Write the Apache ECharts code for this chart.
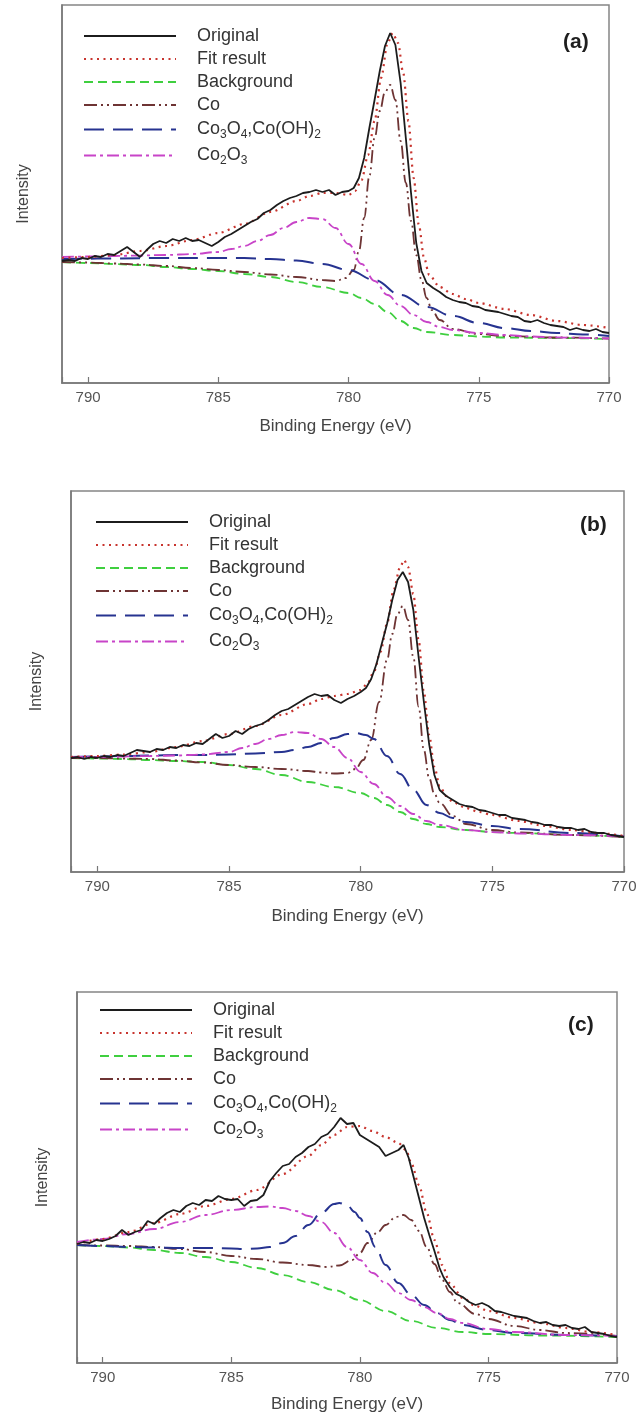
<!DOCTYPE html>
<html><head><meta charset="utf-8">
<script src="https://cdn.jsdelivr.net/npm/echarts@6/dist/echarts.min.js"></script>
<style>html,body{margin:0;padding:0;background:#fff}#c{width:638px;height:1422px}</style>
</head><body><div id="c"></div>
<script>
const seriesNames = ['Original', 'Fit result', 'Background', 'Co', 'Co3O4,Co(OH)2', 'Co2O3'];
const xTickLabels = [790, 785, 780, 775, 770];
const panelLabels = ['(a)', '(b)', '(c)'];
const xAxisTitle = 'Binding Energy (eV)';
const yAxisTitle = 'Intensity';

// ---- panel (a) : [binding energy, intensity (a.u.)]
const a_original = [[791,122],[790.75,123],[790.5,122],[790.25,125],[790,124],[789.75,127],[789.5,126],[789.25,129],[789,128],[788.75,132],[788.5,136],[788.25,131],[788,126],[787.75,133],[787.5,139],[787.25,142],[787,140],[786.75,144],[786.5,142],[786.25,145],[786,142],[785.75,143],[785.5,140],[785.25,137],[785,141],[784.75,146],[784.5,149],[784.25,153],[784,157],[783.75,161],[783.5,164],[783.25,170],[783,173],[782.75,178],[782.5,182],[782.25,185],[782,187],[781.75,190],[781.5,191],[781.25,193],[781,191],[780.75,193],[780.5,188],[780.25,191],[780,192],[779.8,195],[779.6,205],[779.4,225],[779.2,255],[779,283],[778.8,312],[778.6,337],[778.4,350],[778.2,338],[778,300],[777.8,245],[777.6,190],[777.4,140],[777.2,112],[777,100],[776.75,95],[776.5,91],[776.25,86],[776,83],[775.75,81],[775.5,80],[775.25,77],[775,76],[774.75,73],[774.5,72],[774.25,71],[774,69],[773.75,67],[773.5,66],[773.25,62],[773,61],[772.75,63],[772.5,60],[772.25,58],[772,57],[771.75,56],[771.5,53],[771.25,55],[771,53],[770.75,52],[770.5,54],[770.25,51],[770,50]];
const a_fit = [[791,125],[790,126],[789,128],[788,132],[787,137],[786,143],[785,150],[784,159],[783,171],[782,182],[781.5,187],[781,190],[780.5,190],[780,188],[779.75,192],[779.5,203],[779.25,228],[779,262],[778.75,305],[778.5,340],[778.3,350],[778.1,340],[777.9,310],[777.7,262],[777.5,205],[777.3,158],[777.1,125],[776.9,108],[776.5,96],[776,89],[775.5,84],[775,80],[774,74],[773,68],[772,62],[771,58],[770,55]];
const a_bg = [[791,121],[790,120],[789,119],[788,118],[787,116],[786,114],[785,112],[784,109],[783,106],[782,101],[781,96],[780,90],[779.5,85],[779,79],[778.5,71],[778,62],[777.5,55],[777,51],[776,48],[775,46.5],[774,45.5],[772,45],[770,44]];
const a_co = [[791,121],[790,120.5],[789,119.5],[788,118.5],[787,117],[786,115],[785,113],[784,111],[783,108.5],[782,106],[781,103],[780.5,102],[780.1,105],[779.8,113],[779.6,132],[779.4,165],[779.2,207],[779,245],[778.8,272],[778.6,291],[778.4,298],[778.2,283],[778,242],[777.8,200],[777.6,162],[777.4,128],[777.2,103],[777,85],[776.8,73],[776.5,63],[776,54],[775,49],[774,47],[772,45.5],[770,44.5]];
const a_co3o4 = [[791,124],[789,124.5],[787,125],[785,125],[784,125],[783,124],[782,122.5],[781,119],[780,113],[779,103],[778,88],[777,76],[776,67],[775,60],[774,55],[773,52],[772,50],[771,48.5],[770,47]];
const a_co2o3 = [[791,126],[790,126.5],[789,127],[788,127.5],[787,128],[786,129],[785,131],[784.5,134],[784,137],[783.5,142],[783,148],[782.5,155],[782,161],[781.5,165],[781,164],[780.5,155],[780,139],[779.5,119],[779,102],[778.5,88],[778,77],[777.5,68],[777,61],[776.5,56],[776,53],[775,50],[774,48],[773,46.5],[772,45.5],[770,44.5]];

// ---- panel (b)
const b_original = [[791,114],[790.75,115],[790.5,113],[790.25,115],[790,114],[789.75,116],[789.5,115],[789.25,117],[789,116],[788.75,119],[788.5,122],[788.25,121],[788,120],[787.75,123],[787.5,122],[787.25,125],[787,124],[786.75,127],[786.5,126],[786.25,129],[786,128],[785.75,133],[785.5,138],[785.25,134],[785,136],[784.75,141],[784.5,138],[784.25,143],[784,146],[783.75,148],[783.5,152],[783.25,157],[783,161],[782.75,163],[782.5,167],[782.25,171],[782,175],[781.75,178],[781.5,176],[781.25,177],[781,172],[780.75,169],[780.5,173],[780.25,176],[780,180],[779.8,184],[779.6,193],[779.4,208],[779.2,228],[779,248],[778.8,272],[778.6,292],[778.4,300],[778.2,290],[778,262],[777.8,215],[777.6,170],[777.4,128],[777.2,97],[777,82],[776.75,76],[776.5,72],[776.25,68],[776,66],[775.75,65],[775.5,62],[775.25,61],[775,59],[774.75,57],[774.5,57],[774.25,54],[774,53],[773.75,52],[773.5,50],[773.25,49],[773,47],[772.75,47],[772.5,45],[772.25,44],[772,44],[771.75,42],[771.5,43],[771.25,40],[771,39],[770.75,39],[770.5,37],[770.25,36],[770,35]];
const b_fit = [[791,115],[790,116],[789,117.5],[788,120],[787,125],[786,131],[785,138],[784,146],[783,157],[782,168],[781.5,173],[781,176],[780.5,178],[780,182],[779.75,188],[779.5,200],[779.25,220],[779,248],[778.75,282],[778.5,305],[778.35,312],[778.2,305],[778,278],[777.8,232],[777.6,180],[777.4,137],[777.2,105],[777,86],[776.75,76],[776.5,70],[776,64],[775.5,60],[775,57],[774,51],[773,46],[772,42],[771,39],[770,36]];
const b_bg = [[791,114],[790,113.5],[789,113],[788,112],[787,111],[786,110],[785,107],[784,103],[783,97],[782,90],[781,85],[780,79],[779.5,74],[779,67],[778.5,60],[778,53],[777.5,48],[777,45],[776,42],[775,40],[774,39],[772,37],[770,35]];
const b_co = [[791,114],[790,114],[789,113.5],[788,113],[787,111.5],[786,109.5],[785,107],[784,105],[783,103],[782,101],[781.5,99.5],[781,98.5],[780.5,99],[780.2,103],[779.9,112],[779.6,132],[779.3,170],[779,212],[778.8,238],[778.6,258],[778.4,266],[778.2,252],[778,215],[777.8,165],[777.6,122],[777.4,94],[777.2,78],[777,69],[776.5,56],[776,48],[775,42],[774,39.5],[772,37],[770,35]];
const b_co3o4 = [[791,115],[790,115.5],[789,116],[788,116.5],[787,117],[786,117],[785,117.5],[784,118.5],[783,120],[782.5,122],[782,125],[781.5,129],[781,134],[780.5,138],[780.2,139],[779.8,137],[779.5,133],[779,116],[778.5,98],[778,82],[777.5,67],[777,59],[776.5,54],[776,50],[775,46],[774,43],[772,39],[770,35.5]];
const b_co2o3 = [[791,115],[790,115],[789,115.5],[788,116],[787,116.5],[786,117.5],[785,120],[784.5,124],[784,128],[783.5,133],[783,137],[782.5,140],[782,139],[781.5,133],[781,125],[780.5,114],[780,100],[779.5,88],[779,75],[778.5,66],[778,58],[777.5,51],[777,47],[776,42],[775,40],[774,38.5],[772,37],[770,35.5]];

// ---- panel (c)
const c_original = [[791,119],[790.75,121],[790.5,120],[790.25,123],[790,122],[789.75,124],[789.5,127],[789.25,133],[789,128],[788.75,131],[788.5,133],[788.25,142],[788,139],[787.75,145],[787.5,150],[787.25,153],[787,151],[786.75,157],[786.5,160],[786.25,158],[786,163],[785.75,162],[785.5,167],[785.25,164],[785,163],[784.75,164],[784.5,157],[784.25,162],[784,163],[783.75,168],[783.5,182],[783.25,190],[783,197],[782.75,199],[782.5,206],[782.25,210],[782,216],[781.75,219],[781.5,226],[781.25,229],[781,236],[780.75,245],[780.5,239],[780.25,240],[780,228],[779.75,224],[779.5,220],[779.25,216],[779,207],[778.75,210],[778.5,213],[778.3,218],[778.1,205],[777.9,185],[777.7,165],[777.5,145],[777.3,128],[777.1,112],[776.9,95],[776.75,86],[776.5,76],[776.25,69],[776,66],[775.75,61],[775.5,58],[775.25,60],[775,57],[774.75,52],[774.5,51],[774.25,49],[774,47],[773.75,46],[773.5,45],[773.25,42],[773,40],[772.75,41],[772.5,38],[772.25,37],[772,38],[771.75,35],[771.5,34],[771.25,36],[771,31],[770.75,30],[770.5,29],[770.25,27],[770,26]];
const c_fit = [[791,119],[790,124],[789,131],[788,140],[787,149],[786,157],[785,164],[784,173],[783,189],[782,207],[781.5,218],[781,228],[780.5,236],[780,237],[779.5,232],[779,226],[778.5,220],[778.2,213],[778,200],[777.7,178],[777.4,150],[777.1,123],[776.8,98],[776.5,80],[776,65],[775.5,57],[775,52],[774,45],[773,40],[772,35],[771,31],[770,28]];
const c_bg = [[791,118],[790,117],[789,115.5],[788,113],[787,110],[786,106],[785,101],[784,95],[783,88],[782,81],[781,73],[780,63],[779,52],[778,42],[777,35],[776,31],[775,29],[773,27.5],[770,26]];
const c_co = [[791,118],[790,117.5],[789,117],[788,116],[787,114],[786,111],[785,107],[784,104],[783,100.5],[782,98],[781.3,96],[780.8,97.5],[780.3,103],[780,110],[779.7,120],[779.3,131],[779,138],[778.6,146],[778.3,148],[778,143],[777.7,132],[777.4,116],[777.1,99],[776.8,83],[776.5,71],[776.2,60],[775.5,49],[775,44],[774,37],[773,33],[772,30],[770,27]];
const c_co3o4 = [[791,118],[790,117],[789,116],[788,115.5],[787,115],[786,115],[785,114.5],[784.5,114],[784,114.5],[783.5,116],[783,120],[782.5,127],[782,138],[781.5,150],[781,159],[780.8,160],[780.5,158],[780.2,151],[780,145],[779.7,131],[779.4,116],[779,98],[778.5,80],[778,68],[777.5,58],[777,50],[776.5,43],[776,38],[775,33],[774,30],[772,28],[770,27]];
const c_co2o3 = [[791,121],[790,124],[789,129],[788,134],[787,141],[786,148],[785,153],[784,156],[783.5,156.5],[783,155],[782.5,152],[782,147],[781.5,141],[781,130],[780.5,116],[780,103],[779.5,90],[779,80],[778.5,70],[778,63],[777.5,56],[777,50],[776.5,44],[776,40],[775,34],[774,31],[772,28],[770,27]];

// ---- layout / styling (not data)
const panels = [
  {grid:{left:62, top:5, width:547, height:378}, ymax:378, data:[a_original,a_fit,a_bg,a_co,a_co3o4,a_co2o3], legend:{left:83, top:26}, tag:{left:563, top:32}, nameGap:35, yNameGap:30},
  {grid:{left:71, top:491, width:553, height:381}, ymax:381, data:[b_original,b_fit,b_bg,b_co,b_co3o4,b_co2o3], legend:{left:95, top:512}, tag:{left:580, top:515}, nameGap:36, yNameGap:26},
  {grid:{left:77, top:992, width:540, height:371}, ymax:371, data:[c_original,c_fit,c_bg,c_co,c_co3o4,c_co2o3], legend:{left:99, top:1000}, tag:{left:568, top:1015}, nameGap:33, yNameGap:26}
];
const styles = [
  {color:'#1c1c1c', type:'solid', width:1.8, smooth:false, z:6},
  {color:'#c8342e', type:[2,4.5], width:2.2, smooth:0.3, z:5},
  {color:'#3fcf3f', type:[9,5], width:1.8, smooth:0.4, z:2},
  {color:'#6e3434', type:[13,4,2,4,2,4], width:1.8, smooth:0.4, z:3},
  {color:'#263390', type:[20,9], width:2, smooth:0.4, z:3},
  {color:'#c844c8', type:[12,4,3,4], width:1.8, smooth:0.4, z:3}
];
const legendLabel = {'Co3O4,Co(OH)2':'Co{s|3}O{s|4},Co(OH){s|2}', 'Co2O3':'Co{s|2}O{s|3}'};
const FONT = '"Liberation Sans", Arial, sans-serif';

const option = {
  backgroundColor:'#fff',
  animation:false,
  grid: panels.map(p => Object.assign({show:true, borderColor:'#858585', borderWidth:1.5, outerBoundsMode:'none', containLabel:false}, p.grid)),
  xAxis: panels.map((p,i) => ({
    type:'value', gridIndex:i, min:770, max:791, interval:5, inverse:true,
    axisLine:{show:true, lineStyle:{color:'#777', width:1.5}},
    axisTick:{show:true, inside:true, length:6, lineStyle:{color:'#777', width:1.2}},
    splitLine:{show:false},
    axisLabel:{margin:7, fontSize:15, color:'#555', fontFamily:FONT,
      formatter: v => xTickLabels.indexOf(v) >= 0 ? String(v) : ''},
    name:xAxisTitle, nameLocation:'middle', nameGap:p.nameGap,
    nameTextStyle:{fontSize:17, color:'#444', fontFamily:FONT}
  })),
  yAxis: panels.map((p,i) => ({
    type:'value', gridIndex:i, min:0, max:p.ymax,
    axisLine:{show:true, lineStyle:{color:'#777', width:1.5}},
    axisTick:{show:false}, axisLabel:{show:false}, splitLine:{show:false},
    name:yAxisTitle, nameLocation:'middle', nameGap:p.yNameGap,
    nameTextStyle:{fontSize:16, color:'#444', fontFamily:FONT}
  })),
  title: panels.map((p,i) => ({
    text:panelLabels[i], left:p.tag.left, top:p.tag.top, padding:0,
    textStyle:{fontSize:21, fontWeight:'bold', color:'#1e1e1e', fontFamily:FONT}
  })),
  legend: panels.map(p => ({
    data:seriesNames, orient:'vertical', left:p.legend.left, top:p.legend.top, padding:0,
    itemWidth:92, itemHeight:14, itemGap:3, selectedMode:false,
    itemStyle:{opacity:0, borderWidth:0},
    textStyle:{fontSize:18, color:'#333', fontFamily:FONT, lineHeight:20,
      rich:{g:{width:16}, s:{fontSize:12, lineHeight:12, padding:[11,0,0,0], fontFamily:FONT, color:'#333'}}},
    formatter: n => '{g|}' + (legendLabel[n] || n)
  })),
  series: []
};
panels.forEach((p,i) => {
  p.data.forEach((arr,k) => {
    const s = styles[k];
    option.series.push({
      name:seriesNames[k], type:'line', xAxisIndex:i, yAxisIndex:i,
      data:arr, showSymbol:false, symbol:'none', smooth:s.smooth, smoothMonotone:'x', z:s.z,
      itemStyle:{color:s.color},
      lineStyle:{color:s.color, width:s.width, type:s.type}
    });
  });
});
const chart = echarts.init(document.getElementById('c'), null, {renderer:'canvas'});
chart.setOption(option);
</script></body></html>
